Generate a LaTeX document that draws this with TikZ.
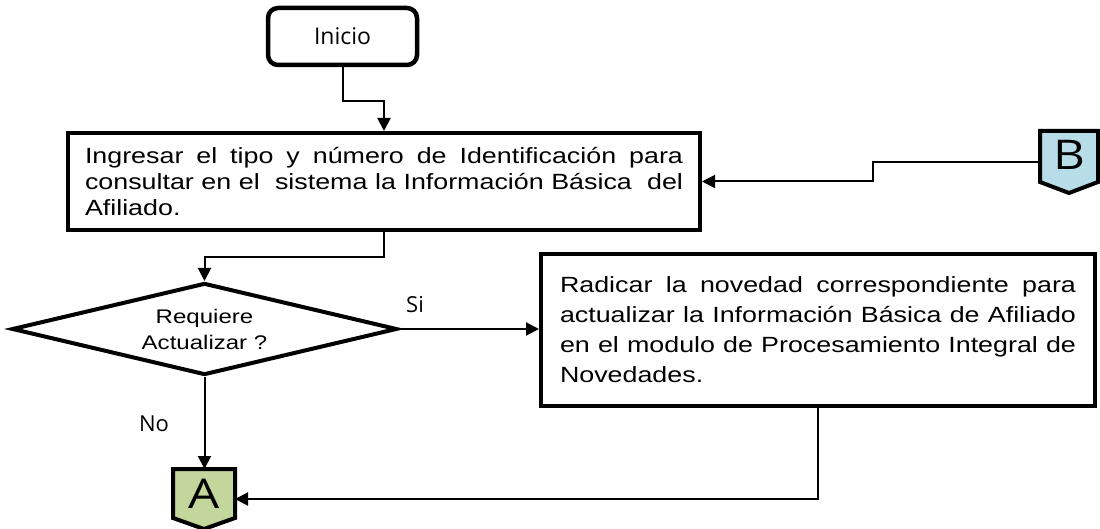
\documentclass[tikz,border=0pt]{standalone}
\usepackage{fontspec}
\setmainfont{Liberation Sans}[FakeStretch=1.22]
\newfontfamily\osans{Open Sans}
\newfontfamily\osanswide{Open Sans}[FakeStretch=1.2]
\usetikzlibrary{arrows.meta,shapes.geometric}
\definecolor{agreen}{HTML}{C3D69B}
\definecolor{bblue}{HTML}{B7DEE8}
\tikzset{
  procbox/.style={draw, line width=4pt, rectangle, inner sep=0pt},
  startbox/.style={draw, line width=4.5pt, rounded corners=10pt, inner sep=0pt,
    minimum width=149pt, minimum height=57pt, font=\osans\fontsize{23}{26}\selectfont},
  decbox/.style={draw, line width=4pt, diamond, inner sep=0pt, aspect=4,
    minimum width=385pt, minimum height=92pt, align=center,
    font=\fontsize{19.7}{26}\selectfont},
  conarea/.style={rectangle, inner sep=0pt, outer sep=2pt},
  letter/.style={font=\osanswide\fontsize{41}{44}\selectfont, inner sep=0pt},
  arr/.style={line width=2pt, -{Triangle[length=13pt,width=13pt]}},
  lbl/.style={font=\osans\fontsize{22}{24}\selectfont, inner sep=0pt},
}
\begin{document}
\begin{tikzpicture}[x=1pt,y=-1pt]
\useasboundingbox (0,0) rectangle (1100,529);

% Start
\node[startbox] (start) at (342.5,36.5) {Inicio};

% Box 1
\node[procbox, minimum width=632pt, minimum height=97pt, align=left,
  font=\fontsize{22}{26}\selectfont] (box1) at (384,181.5)
  {\makebox[598pt][s]{Ingresar el tipo y número de Identificación para}\\
   \makebox[598pt][s]{consultar en el\ \ sistema la Información Básica\ \ del}\\
   \makebox[598pt][l]{Afiliado.}};

% Decision
\node[decbox] (dec) at (204.5,329) {Requiere\\Actualizar ?};

% Box 2
\node[procbox, minimum width=554pt, minimum height=152pt, align=left,
  font=\fontsize{22}{30}\selectfont] (box2) at (818,330)
  {\makebox[516pt][s]{Radicar la novedad correspondiente para}\\
   \makebox[516pt][s]{actualizar la Información Básica de Afiliado}\\
   \makebox[516pt][s]{en el modulo de Procesamiento Integral de}\\
   \makebox[516pt][l]{Novedades.}};

% Connector B
\node[conarea, minimum width=54pt, minimum height=58pt] (B) at (1069,162) {};
\draw[line width=4pt, fill=bblue, line join=miter]
  (B.north west) -- (B.north east) -- ([yshift=11pt]B.south east) -- (B.south)
  -- ([yshift=11pt]B.south west) -- cycle;
\node[letter] (Btxt) at ([yshift=7pt]B.center) {B};

% Connector A
\node[conarea, minimum width=58pt, minimum height=56pt] (A) at (204,499) {};
\draw[line width=4pt, fill=agreen, line join=miter]
  (A.north west) -- (A.north east) -- ([yshift=11pt]A.south east) -- (A.south)
  -- ([yshift=11pt]A.south west) -- cycle;
\node[letter] (Atxt) at ([yshift=5pt]A.center) {A};

% Connectors
\draw[arr] (start.south) -- ++(0,34) -| (box1.north);
\draw[arr] (B.west) -- ++(-167,0) |- (box1.east);
\draw[arr] (box1.south) -- ++(0,25) -| (dec.north);
\draw[arr] (dec.east) -- (dec.east -| box2.west);
\draw[arr] (dec.south) -- (dec.south |- A.north);
\draw[arr] (box2.south) |- (A.east);

% Labels
\node[lbl] (si) at (415,305) {Si};
\node[lbl] (no) at (154,424) {No};
\end{tikzpicture}
\end{document}
